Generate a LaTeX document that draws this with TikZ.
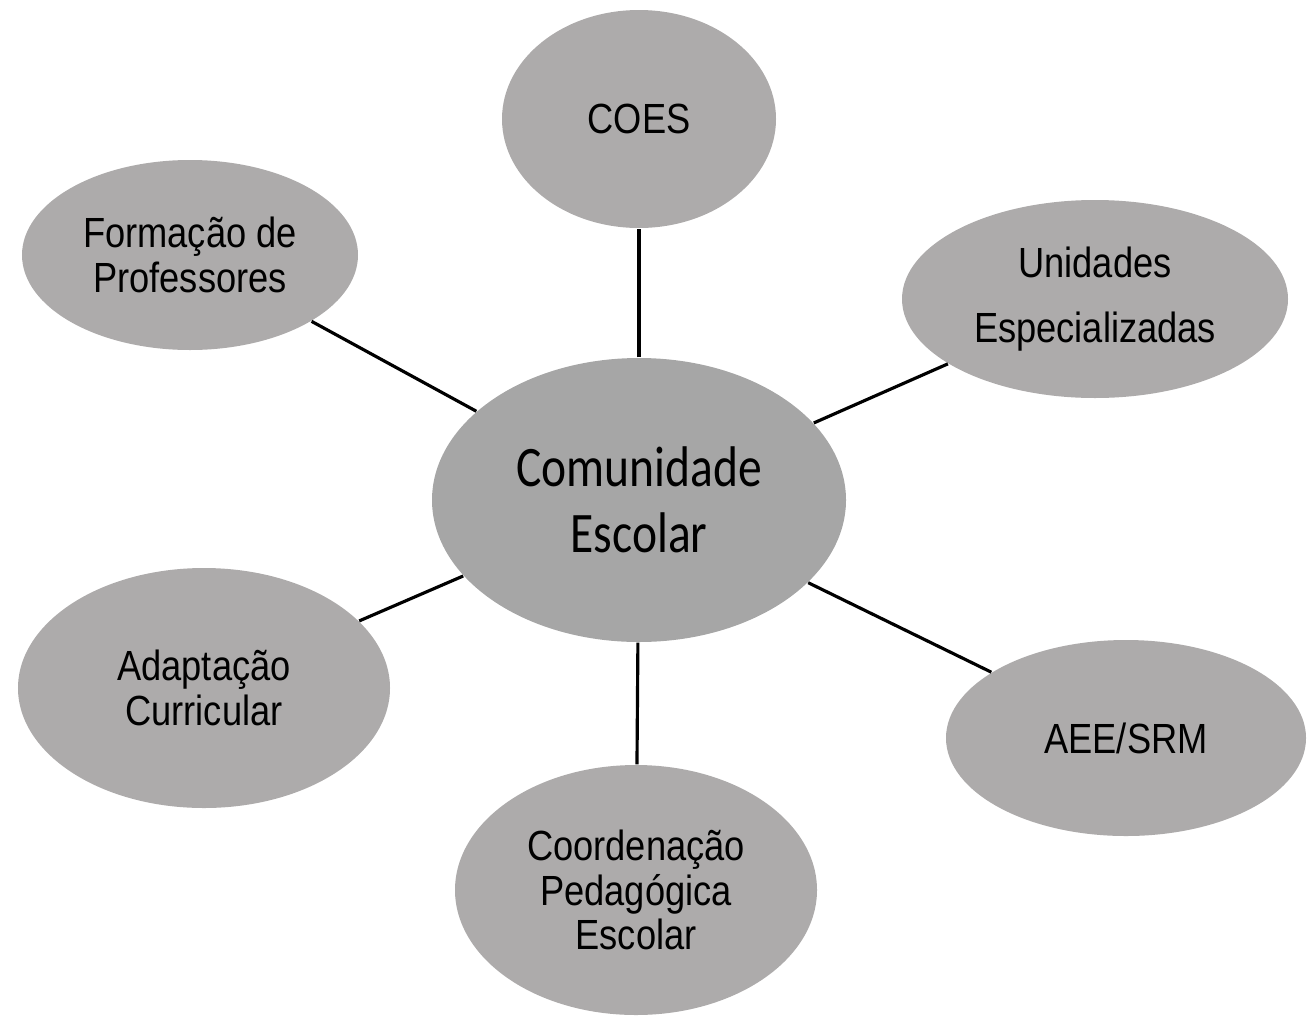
\documentclass[tikz,border=0pt]{standalone}
\usepackage{fontspec}
\setmainfont{Liberation Sans}[FakeStretch=0.86]
\newfontfamily\centrofont{Carlito}[FakeStretch=0.83]
\usetikzlibrary{shapes.geometric}
\definecolor{bolha}{HTML}{ADABAB}
\definecolor{bolhacentro}{HTML}{A6A6A6}
\begin{document}
\begin{tikzpicture}[
		bolha/.style={ellipse,fill=bolha,inner sep=0pt,align=center,
			font=\fontsize{12}{12.6}\selectfont},
		ligacao/.style={black,line width=0.9pt}
	]
	\useasboundingbox (0,0) rectangle (13.14,-10.19);
	% elipse central
	\node[ellipse,fill=bolhacentro,inner sep=0pt,align=center,
		minimum width=4.14cm,minimum height=2.84cm,
		font=\centrofont\fontsize{16.3}{18.8}\selectfont]
		(comunidade) at (6.39,-5.00) {Comunidade\\Escolar};
	% elipses em volta
	\node[bolha,minimum width=2.74cm,minimum height=2.18cm]
		(coes) at (6.39,-1.19) {COES};
	\node[bolha,minimum width=3.36cm,minimum height=1.90cm]
		(formacao) at (1.90,-2.55) {Formação de\\Professores};
	\node[bolha,minimum width=3.86cm,minimum height=1.98cm,
		font=\fontsize{12}{18.5}\selectfont]
		(unidades) at (10.95,-2.99) {Unidades\\Especializadas};
	\node[bolha,minimum width=3.72cm,minimum height=2.40cm]
		(adaptacao) at (2.04,-6.88) {Adaptação\\Curricular};
	\node[bolha,minimum width=3.60cm,minimum height=1.96cm]
		(aee) at (11.26,-7.38) {AEE/SRM};
	\node[bolha,minimum width=3.62cm,minimum height=2.50cm]
		(coordenacao) at (6.36,-8.90) {Coordenação\\Pedagógica\\Escolar};
	% ligacoes
	\draw[ligacao] (comunidade) -- (coes);
	\draw[ligacao] (comunidade) -- (formacao);
	\draw[ligacao] (comunidade) -- (unidades);
	\draw[ligacao] (comunidade) -- (adaptacao);
	\draw[ligacao] (comunidade) -- (aee);
	\draw[ligacao] (comunidade) -- (coordenacao);
\end{tikzpicture}
\end{document}
